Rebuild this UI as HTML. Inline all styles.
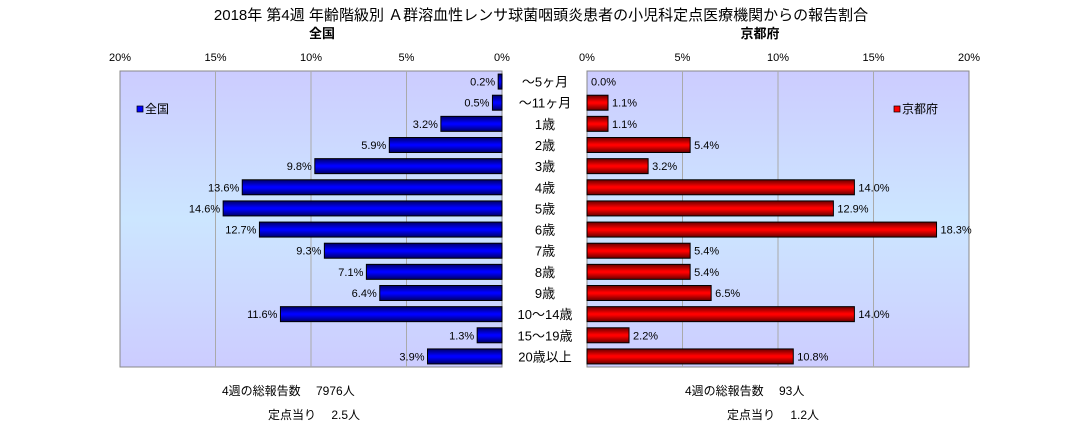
<!DOCTYPE html>
<html><head><meta charset="utf-8"><style>
body{margin:0;background:#fff;}
svg text{font-family:"Liberation Sans","Noto Sans CJK JP",sans-serif;}
</style></head><body>
<svg width="1083" height="429" xmlns="http://www.w3.org/2000/svg">
<defs>
<linearGradient id="bg" x1="0" y1="0" x2="0" y2="1">
<stop offset="0" stop-color="#ccccff"/><stop offset="0.5" stop-color="#cce6ff"/><stop offset="1" stop-color="#ccccff"/>
</linearGradient>
<linearGradient id="gb" x1="0" y1="0" x2="0" y2="1">
<stop offset="0" stop-color="#000066"/><stop offset="0.45" stop-color="#0000ff"/><stop offset="0.55" stop-color="#0000ff"/><stop offset="1" stop-color="#000066"/>
</linearGradient>
<linearGradient id="gr" x1="0" y1="0" x2="0" y2="1">
<stop offset="0" stop-color="#660000"/><stop offset="0.45" stop-color="#ff0000"/><stop offset="0.55" stop-color="#ff0000"/><stop offset="1" stop-color="#660000"/>
</linearGradient>
</defs>
<text x="541" y="20" font-size="15" text-anchor="middle">2018年 第4週 年齢階級別 Ａ群溶血性レンサ球菌咽頭炎患者の小児科定点医療機関からの報告割合</text>
<text x="322" y="38" font-size="13" text-anchor="middle" font-weight="bold">全国</text>
<text x="760" y="38" font-size="13" text-anchor="middle" font-weight="bold">京都府</text>
<rect x="120" y="71" width="382" height="296" fill="url(#bg)" stroke="#888"/>
<rect x="587" y="71" width="382" height="296" fill="url(#bg)" stroke="#888"/>
<g id="grid"></g>
<g id="bars"></g>
<g id="labels"></g>
<rect x="137" y="106" width="6" height="6" fill="#0000ff" stroke="#000" stroke-width="0.7"/>
<text x="145" y="113" font-size="12">全国</text>
<rect x="894" y="106" width="6" height="6" fill="#ff0000" stroke="#000" stroke-width="0.7"/>
<text x="902" y="113" font-size="12">京都府</text>
<text x="222" y="395" font-size="12">4週の総報告数　 7976人</text>
<text x="268" y="419" font-size="12">定点当り　 2.5人</text>
<text x="685" y="395" font-size="12">4週の総報告数　 93人</text>
<text x="727" y="419" font-size="12">定点当り　 1.2人</text>
</svg>
<script>
const categories=["～5ヶ月","～11ヶ月","1歳","2歳","3歳","4歳","5歳","6歳","7歳","8歳","9歳","10～14歳","15～19歳","20歳以上"];
const nationalValues=[0.2,0.5,3.2,5.9,9.8,13.6,14.6,12.7,9.3,7.1,6.4,11.6,1.3,3.9];
const kyotoValues=[0.0,1.1,1.1,5.4,3.2,14.0,12.9,18.3,5.4,5.4,6.5,14.0,2.2,10.8];
const tickValues=[0,5,10,15,20];
const NS="http://www.w3.org/2000/svg";
const L0=502,R0=587,W=382,MAX=20,TOP=71,H=296;
const xl=v=>L0-v/MAX*W, xr=v=>R0+v/MAX*W;
const rowH=H/categories.length, yc=i=>TOP+rowH*(i+0.5);
function mk(t,a,p){const e=document.createElementNS(NS,t);for(const k in a)e.setAttribute(k,a[k]);p.appendChild(e);return e;}
const grid=document.getElementById('grid'),bars=document.getElementById('bars'),labels=document.getElementById('labels');
tickValues.forEach(v=>{
  if(v>0&&v<MAX){
    const g1=mk('line',{x1:xl(v),x2:xl(v),y1:TOP,y2:TOP+H,stroke:'#aaa'},grid);
    
    
    const g2=mk('line',{x1:xr(v),x2:xr(v),y1:TOP,y2:TOP+H,stroke:'#aaa'},grid);
    
    
  }
  const t1=mk('text',{x:xl(v),y:61,'font-size':11,'text-anchor':'middle'},labels);t1.textContent=v+'%';
  
  
  const t2=mk('text',{x:xr(v),y:61,'font-size':11,'text-anchor':'middle'},labels);t2.textContent=v+'%';
  
  
});
categories.forEach((c,i)=>{
  const y=yc(i),bh=15;
  const nv=nationalValues[i],kv=kyotoValues[i];
  if(nv>0){const b=mk('rect',{x:xl(nv),y:y-bh/2,width:L0-xl(nv),height:bh,fill:'url(#gb)',stroke:'#000','stroke-width':1},bars);
    
    }
  if(kv>0){const b=mk('rect',{x:R0,y:y-bh/2,width:xr(kv)-R0,height:bh,fill:'url(#gr)',stroke:'#000','stroke-width':1},bars);
    
    }
  const nl=mk('text',{x:xl(nv)-3,y:y+4,'font-size':11,'text-anchor':'end'},labels);nl.textContent=nv.toFixed(1)+'%';
  
  
  const kl=mk('text',{x:xr(kv)+4,y:y+4,'font-size':11},labels);kl.textContent=kv.toFixed(1)+'%';
  
  
  const cl=mk('text',{x:545,y:y+5,'font-size':13,'text-anchor':'middle'},labels);cl.textContent=c;
  
  
});
</script>
</body></html>
